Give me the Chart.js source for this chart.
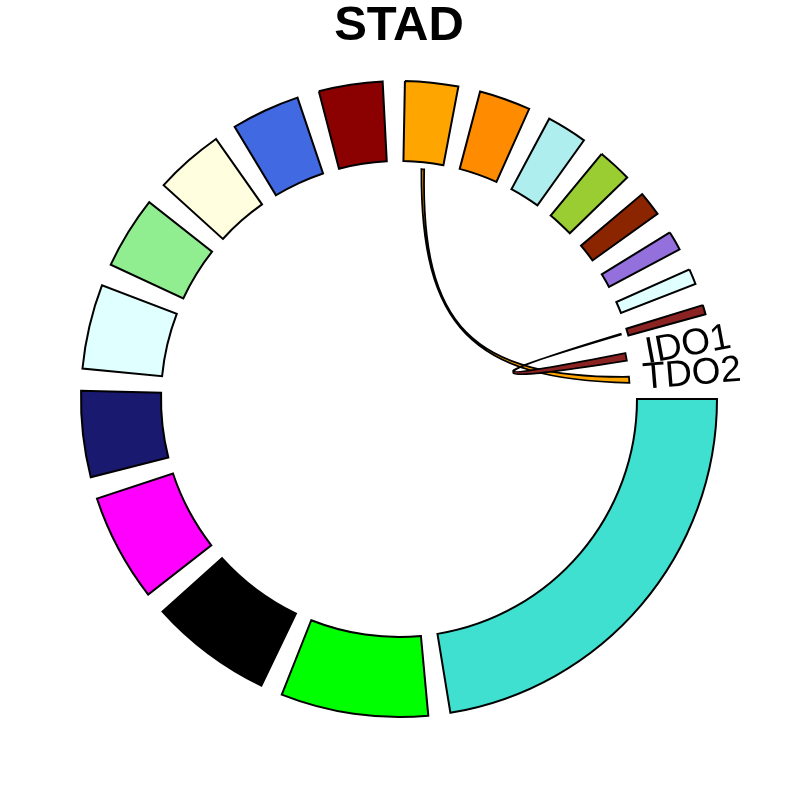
<!DOCTYPE html>
<html>
<head>
<meta charset="utf-8">
<script src="https://cdn.jsdelivr.net/npm/chart.js@4.4.0/dist/chart.umd.min.js"></script>
<style>
  html, body { margin: 0; padding: 0; background: #ffffff; }
  #wrap { width: 800px; height: 800px; }
</style>
</head>
<body>
<div id="wrap"><canvas id="c" width="800" height="800"></canvas></div>
<script>
// ---- data ----
const chartTitle = 'STAD';
const sectorIds = ['s01','s02','s03','s04','s05','s06','s07','s08','s09','s10',
                   's11','s12','s13','s14','s15','s16','s17','s18','IDO1','TDO2'];
// angular extent of each sector (degrees of the circle)
const sectorValues = [80.35, 26.8, 22.3, 19.6, 15.65, 15.4, 13.2, 12.55, 12.45, 11.6,
                      9.65, 9.35, 7.35, 6.25, 4.5, 3.5, 2.85, 1.7, 1.9, 1.5];
const sectorColors = ['#40E0D0','#00FF00','#000000','#FF00FF','#191970','#E0FFFF','#90EE90','#FFFFE0','#4169E1','#8B0000',
                      '#FFA500','#FF8C00','#AFEEEE','#9ACD32','#8B2500','#9370DB','#E0FFFF','#8B2323','transparent','transparent'];
const labelledSectors = ['IDO1', 'TDO2'];
const gapDegrees = 4;
// links (ribbons): sector + fraction of that sector covered by the link end
const linkFrom = ['s11', 's18'];
const linkFromSpan = [[0.465, 0.535], [0.45, 0.60]];
const linkTo = ['TDO2', 'IDO1'];
const linkToSpan = [[0, 1], [0, 1]];
const linkColors = ['#FFA500', '#8B2323'];

// ---- build the doughnut dataset (sectors interleaved with gaps) ----
const ringData = [], ringBg = [], ringBw = [], ringLabels = [];
sectorValues.forEach((v, i) => {
  ringData.push(v); ringBg.push(sectorColors[i]);
  ringBw.push(sectorColors[i] === 'transparent' ? 0 : 2);
  ringLabels.push(sectorIds[i]);
  ringData.push(gapDegrees); ringBg.push('transparent'); ringBw.push(0); ringLabels.push('');
});

const OUTER_R = 318, INNER_R = 238;

const linksAndLabels = {
  id: 'linksAndLabels',
  afterDatasetsDraw(chart) {
    const meta = chart.getDatasetMeta(0);
    const ctx = chart.ctx;
    const el0 = meta.data[0];
    const cx = el0.x, cy = el0.y;
    const inner = el0.innerRadius, outer = el0.outerRadius;
    const R = inner - 7;           // link end radius
    const CTRL_D = 29, K = 0.75;   // curve shape
    const arcOf = id => meta.data[2 * sectorIds.indexOf(id)];
    const ang = (el, f) => el.startAngle + f * (el.endAngle - el.startAngle);
    const pt = (a, r) => [cx + r * Math.cos(a), cy + r * Math.sin(a)];
    function curve(t1, t2) {
      const p0 = pt(t1, R), p3 = pt(t2, R);
      let tm = (t1 + t2) / 2;
      if (Math.abs(t1 - t2) > Math.PI) tm += Math.PI;
      const c = pt(tm, CTRL_D);
      ctx.bezierCurveTo(p0[0] + K * (c[0] - p0[0]), p0[1] + K * (c[1] - p0[1]),
                        p3[0] + K * (c[0] - p3[0]), p3[1] + K * (c[1] - p3[1]),
                        p3[0], p3[1]);
    }
    ctx.save();
    linkFrom.forEach((fromId, i) => {
      const A = arcOf(fromId), B = arcOf(linkTo[i]);
      const a1 = ang(A, linkFromSpan[i][0]), a2 = ang(A, linkFromSpan[i][1]);
      const b1 = ang(B, linkToSpan[i][0]), b2 = ang(B, linkToSpan[i][1]);
      ctx.beginPath();
      const s = pt(a1, R);
      ctx.moveTo(s[0], s[1]);
      ctx.arc(cx, cy, R, a1, a2, false);
      curve(a2, b1);
      ctx.arc(cx, cy, R, b1, b2, false);
      curve(b2, a1);
      ctx.closePath();
      ctx.fillStyle = linkColors[i];
      ctx.fill();
      ctx.lineWidth = 1.8;
      ctx.lineJoin = 'miter';
      ctx.strokeStyle = '#000000';
      ctx.stroke();
    });
    // sector labels
    ctx.font = '37px "Liberation Sans", Arial, sans-serif';
    ctx.fillStyle = '#000000';
    ctx.textAlign = 'center';
    ctx.textBaseline = 'middle';
    labelledSectors.forEach(id => {
      const el = arcOf(id);
      const mid = (el.startAngle + el.endAngle) / 2;
      ctx.save();
      ctx.translate(cx, cy);
      ctx.rotate(mid);
      ctx.fillText(id, (inner + outer) / 2 + 16, 0);
      ctx.restore();
    });
    ctx.restore();
  }
};

new Chart(document.getElementById('c'), {
  type: 'doughnut',
  data: {
    labels: ringLabels,
    datasets: [{
      data: ringData,
      backgroundColor: ringBg,
      borderColor: '#000000',
      borderWidth: ringBw,
      borderJoinStyle: 'miter',
      hoverOffset: 0
    }]
  },
  options: {
    responsive: false,
    animation: false,
    events: [],
    rotation: 90,
    radius: OUTER_R,
    cutout: (INNER_R / OUTER_R * 100) + '%',
    layout: { padding: { top: 0, bottom: 53, left: 0, right: 2 } },
    plugins: {
      legend: { display: false },
      tooltip: { enabled: false },
      title: {
        display: true,
        text: chartTitle,
        color: '#000000',
        font: { family: '"Liberation Sans", Arial, sans-serif', size: 49, weight: 'bold', lineHeight: 1 },
        padding: { top: 2, bottom: 0 }
      }
    }
  },
  plugins: [linksAndLabels]
});
</script>
</body>
</html>
